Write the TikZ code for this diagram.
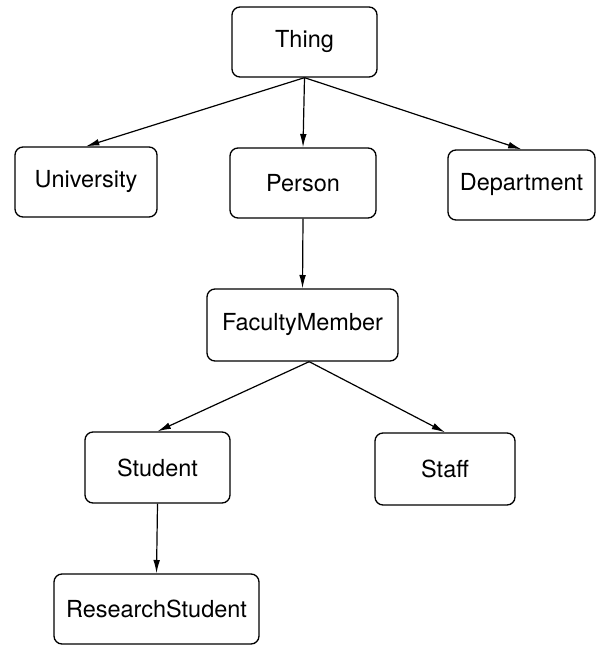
\documentclass[tikz,border=0pt]{standalone}
\usepackage{fontspec}
\setmainfont{TeX Gyre Heros}
\usepackage{tikz}
\usetikzlibrary{arrows.meta}

\begin{document}
\begin{tikzpicture}[x=0.75pt,y=0.75pt,yscale=-1,xscale=1,
  cls/.style={draw, line width=1pt, rounded corners=6pt, inner sep=0.75pt,
    minimum height=52.5pt, font=\fontsize{17.6}{20}\selectfont},
  isa/.style={line width=0.9pt, -{Latex[length=10pt,width=5pt]}}]
\useasboundingbox (0,0) rectangle (600,645);

% Class Nodes
\node [cls, minimum width=108.75pt] (thing) at (304.5,42) {Thing};
\node [cls, minimum width=106.5pt] (university) at (86,182) {University};
\node [cls, minimum width=109.5pt] (person) at (303,183) {Person};
\node [cls, minimum width=110.25pt] (department) at (521.5,185) {Department};
\node [cls, minimum width=143.25pt, minimum height=54pt] (faculty) at (302.5,325) {FacultyMember};
\node [cls, minimum width=108.75pt, minimum height=53.25pt] (student) at (157.5,467.5) {Student};
\node [cls, minimum width=105pt, minimum height=54pt] (staff) at (445,469) {Staff};
\node [cls, minimum width=153.75pt] (research) at (156.5,609) {ResearchStudent};

% Straight Lines
\draw [isa] (thing.south) -- (university.north);
\draw [isa] (thing.south) -- (person.north);
\draw [isa] (thing.south) -- (department.north);
\draw [isa] (person.south) -- (faculty.north);
\draw [isa] ([xshift=5pt]faculty.south) -- (student.north);
\draw [isa] ([xshift=5pt]faculty.south) -- (staff.north);
\draw [isa] (student.south) -- (research.north);

\end{tikzpicture}
\end{document}
